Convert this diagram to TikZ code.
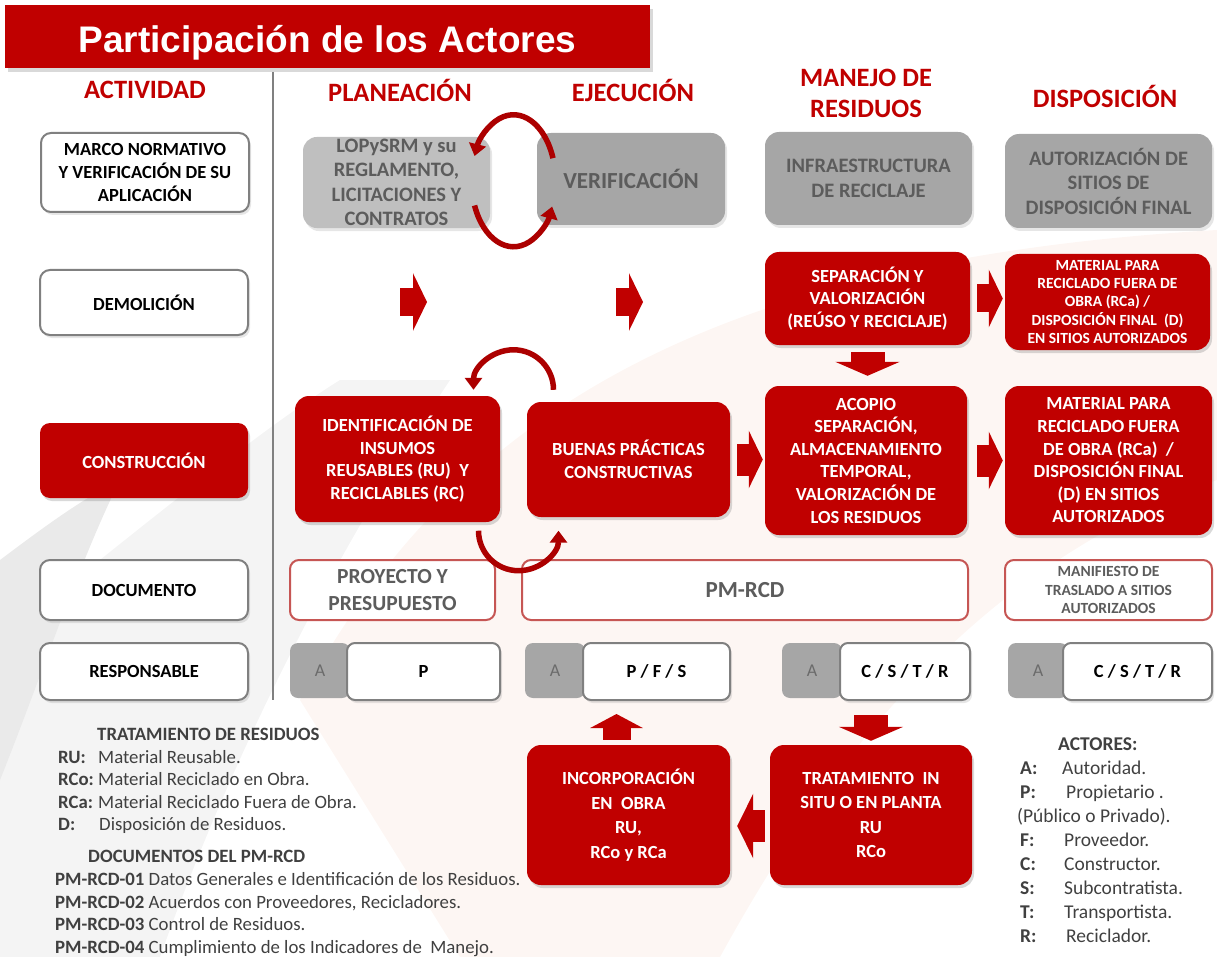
\documentclass[tikz,border=0pt]{standalone}
\usepackage{fontspec}
\setmainfont{Carlito}
\newfontfamily\titlefont{Liberation Sans}
\usepackage{tikz}
\usetikzlibrary{arrows.meta, calc, positioning, shadows}
\usepackage{xcolor}
\definecolor{actred}{RGB}{192, 0, 0}
\definecolor{cyclered}{RGB}{172, 0, 0}
\definecolor{boxgray}{RGB}{166, 166, 166}
\definecolor{boxlightgray}{RGB}{191, 191, 191}
\definecolor{textgray}{RGB}{92, 92, 92}
\definecolor{framegray}{RGB}{128, 128, 128}
\definecolor{docred}{RGB}{198, 86, 84}
\definecolor{legendgray}{RGB}{64, 64, 64}
\definecolor{shadepink}{RGB}{253, 246, 243}
\definecolor{shadegray}{RGB}{244, 244, 244}
\definecolor{shadegraydark}{RGB}{234, 234, 234}
\newcommand{\boxfont}{\fontsize{18.5}{22.6}\selectfont\bfseries}
\newcommand{\smallboxfont}{\fontsize{15.5}{18.2}\selectfont\bfseries}
\newcommand{\grayfont}{\fontsize{20.5}{24.5}\selectfont\bfseries}
\newcommand{\headfont}{\fontsize{26.5}{31}\selectfont\bfseries}
\newcommand{\legendfont}{\fontsize{18.8}{22.6}\selectfont}

\begin{document}
\begin{tikzpicture}[x=1pt, y=-1pt,
	redbox/.style={fill=actred, text=white, rounded corners=14pt, align=center,
		font=\boxfont, inner sep=2pt,
		drop shadow={opacity=0.3, shadow xshift=2pt, shadow yshift=-3pt}},
	graybox/.style={fill=boxgray, text=textgray, rounded corners=14pt, align=center,
		font=\grayfont, inner sep=2pt,
		drop shadow={opacity=0.2, shadow xshift=2pt, shadow yshift=-3pt}},
	actbox/.style={draw=framegray, line width=2pt, fill=white, rounded corners=10pt,
		align=center, font=\boxfont, minimum width=208,
		drop shadow={opacity=0.2, shadow xshift=2pt, shadow yshift=-3pt}},
	docbox/.style={draw=docred, line width=2pt, fill=white, rounded corners=9pt,
		align=center, text=textgray, minimum height=60, inner sep=1pt},
	abox/.style={fill=boxgray, text=black!58, rounded corners=8pt,
		minimum width=60, minimum height=55, font=\fontsize{18}{20}\selectfont},
	rolebox/.style={draw=framegray, line width=2pt, fill=white, rounded corners=8pt,
		minimum height=57, font=\boxfont,
		drop shadow={opacity=0.2, shadow xshift=2pt, shadow yshift=-3pt}},
	header/.style={text=actred, font=\headfont, align=center},
	blockarrow/.style={draw=actred, line width=28pt, -{Triangle[width=57pt, length=14pt]}},
	vblockarrow/.style={draw=actred, line width=34pt, -{Triangle[width=64pt, length=14pt]}},
	cyclearrow/.style={draw=cyclered, line width=5.5pt, -{Triangle[width=17pt, length=12pt]}},
	legend/.style={text=legendgray, font=\legendfont, align=left, inner sep=0pt}]
	\useasboundingbox (0,0) rectangle (1217,957);
	% faint background bands
	\fill[shadegray] (0,957) -- (0,640) .. controls (150,520) and (260,430) .. (340,380)
		-- (450,380) .. controls (330,560) and (230,760) .. (160,957) -- cycle;
	\fill[shadegraydark] (0,780) -- (0,560) .. controls (40,530) and (80,500) .. (120,480)
		.. controls (80,560) and (40,680) .. cycle;
	\fill[shadepink] (300,700) .. controls (450,420) and (700,260) .. (1217,230)
		-- (1217,480) .. controls (1000,560) and (850,720) .. (720,957) -- (460,957) -- cycle;
	% title bar
	\node[fill=actred, text=white, minimum width=645, inner sep=0pt,
		text height=48pt, text depth=15pt,
		font=\titlefont\fontsize{37}{40}\selectfont\bfseries,
		drop shadow={opacity=0.3, shadow xshift=3pt, shadow yshift=-4pt}]
		(title) at (327.5,36.5) {Participación de los Actores};
	% column headers
	\node[header] (hact) at (145,90) {ACTIVIDAD};
	\node[header] (hplan) at (400,90) {PLANEACIÓN};
	\node[header] (hejec) at (633,90) {EJECUCIÓN};
	\node[header] (hman) at (866,93) {MANEJO DE\\RESIDUOS};
	\node[header] (hdisp) at (1105,96) {DISPOSICIÓN};
	% separator
	\draw[framegray, line width=2.5pt] (273,72) -- (273,700);
	% activity column
	\node[actbox, minimum height=79] (marco) at (145,172.5)
		{MARCO NORMATIVO\\Y VERIFICACIÓN DE SU\\APLICACIÓN};
	\node[actbox, minimum height=65] (demol) at (144,302.5) {DEMOLICIÓN};
	\node[redbox, minimum width=208, minimum height=75, rounded corners=10pt]
		(constr) at (144,460.5) {CONSTRUCCIÓN};
	\node[actbox, minimum height=60] (docu) at (144,590) {DOCUMENTO};
	\node[actbox, minimum height=57] (resp) at (144,671.5) {RESPONSABLE};
	% marco normativo row
	\node[graybox, fill=boxlightgray, minimum width=187, minimum height=85]
		(lopy) at (396.5,182.5) {LOPySRM y su\\REGLAMENTO,\\LICITACIONES Y\\CONTRATOS};
	\node[graybox, minimum width=188, minimum height=92,
		font=\fontsize{23}{27}\selectfont\bfseries] (verif) at (631,179) {VERIFICACIÓN};
	\node[graybox, minimum width=207, minimum height=93]
		(infra) at (868.5,178.5) {INFRAESTRUCTURA\\DE RECICLAJE};
	\node[graybox, minimum width=207, minimum height=94]
		(autor) at (1108.5,181) {AUTORIZACIÓN DE\\SITIOS DE\\DISPOSICIÓN FINAL};
	% demolicion row
	\node[redbox, minimum width=205, minimum height=93]
		(separ) at (867.5,298.5) {SEPARACIÓN Y\\VALORIZACIÓN\\(REÚSO Y RECICLAJE)};
	\node[redbox, minimum width=205, minimum height=96, font=\smallboxfont]
		(matA) at (1107.5,302) {MATERIAL PARA\\RECICLADO FUERA DE\\OBRA (RCa) /\\DISPOSICIÓN FINAL~ (D)\\EN SITIOS AUTORIZADOS};
	% construccion row
	\node[redbox, minimum width=205, minimum height=126]
		(ident) at (397.5,459) {IDENTIFICACIÓN DE\\INSUMOS\\REUSABLES (RU)~ Y\\RECICLABLES (RC)};
	\node[redbox, minimum width=203, minimum height=115]
		(buenas) at (628.5,459.5) {BUENAS PRÁCTICAS\\CONSTRUCTIVAS};
	\node[redbox, minimum width=202, minimum height=149]
		(acopio) at (866,460.5) {ACOPIO\\SEPARACIÓN,\\ALMACENAMIENTO\\TEMPORAL,\\VALORIZACIÓN DE\\LOS RESIDUOS};
	\node[redbox, minimum width=207, minimum height=149]
		(matB) at (1108.5,460.5) {MATERIAL PARA\\RECICLADO FUERA\\DE OBRA (RCa)~ /\\DISPOSICIÓN FINAL\\(D) EN SITIOS\\AUTORIZADOS};
	% documento row
	\node[docbox, minimum width=205, font=\fontsize{21.5}{27}\selectfont\bfseries]
		(proy) at (392.5,590) {PROYECTO Y\\PRESUPUESTO};
	\node[docbox, minimum width=446, font=\fontsize{23}{27}\selectfont\bfseries]
		(pmrcd) at (745,590) {PM-RCD};
	\node[docbox, minimum width=207, font=\smallboxfont]
		(manif) at (1108.5,590) {MANIFIESTO DE\\TRASLADO A SITIOS\\AUTORIZADOS};
	% responsable row
	\node[abox] (aut1) at (320,670.5) {A};
	\node[rolebox, minimum width=153] (role1) at (423.5,671.5) {P};
	\node[abox] (aut2) at (555,670.5) {A};
	\node[rolebox, minimum width=147] (role2) at (656.5,671.5) {P / F / S};
	\node[abox] (aut3) at (812,670.5) {A};
	\node[rolebox, minimum width=130] (role3) at (905,671.5) {C / S / T / R};
	\node[abox] (aut4) at (1038,670.5) {A};
	\node[rolebox, minimum width=149] (role4) at (1137.5,671.5) {C / S / T / R};
	% treatment boxes
	\node[redbox, minimum width=203, minimum height=140, font=\fontsize{18.5}{24.6}\selectfont\bfseries]
		(incorp) at (628.5,815) {INCORPORACIÓN\\EN~ OBRA\\RU,\\RCo y RCa};
	\node[redbox, minimum width=202, minimum height=140, font=\fontsize{18.5}{24.6}\selectfont\bfseries]
		(trat) at (871,815) {TRATAMIENTO~ IN\\SITU O EN PLANTA\\RU\\RCo};
	% block arrows
	\coordinate (demA) at (400,302);
	\coordinate (demB) at (427,302);
	\coordinate (demC) at (616,302);
	\coordinate (demD) at (643,302);
	\draw[blockarrow] (demA) -- (demB);
	\draw[blockarrow] (demC) -- (demD);
	\draw[blockarrow, shorten <=7pt, shorten >=2pt] (separ.east) -- (separ.east -| matA.west);
	\draw[blockarrow, line width=32pt, shorten <=7pt, shorten >=2pt] (buenas.east) -- (buenas.east -| acopio.west);
	\draw[blockarrow, line width=32pt, shorten <=10pt, shorten >=2pt] (acopio.east) -- (acopio.east -| matB.west);
	\draw[vblockarrow, shorten <=7pt, shorten >=10pt] (separ.south) -- (separ.south |- acopio.north);
	\draw[vblockarrow, line width=28pt, -{Triangle[width=52pt, length=14pt]}, shorten <=5pt, shorten >=13pt]
		([xshift=-12pt]incorp.north) -- ([xshift=-12pt]incorp.north |- role2.south);
	\draw[vblockarrow, shorten <=14pt, shorten >=4pt] (trat.north |- role3.south) -- (trat.north);
	\draw[blockarrow, line width=32pt, -{Triangle[width=64pt, length=16pt]}, shorten <=5pt, shorten >=7pt]
		([yshift=-11pt]trat.west) -- ([yshift=-11pt]trat.west -| incorp.east);
	% cycle arrows
	\coordinate (cycA) at ($(lopy.east)!0.5!(verif.west)$);
	\draw[cyclearrow] (cycA) ++(-20:42 and 66) arc[start angle=-20, end angle=-158, x radius=42, y radius=66];
	\draw[cyclearrow] (cycA) ++(158:42 and 66) arc[start angle=158, end angle=23, x radius=42, y radius=66];
	\coordinate (cycB) at ($(ident.north east)!0.5!(buenas.north west)$);
	\draw[cyclearrow] ([yshift=9pt]cycB) ++(0:40) arc[start angle=0, end angle=-180, radius=40];
	\coordinate (cycC) at ($(ident.south east)!0.5!(buenas.south west)$);
	\draw[cyclearrow] ([xshift=5pt, yshift=-11pt]cycC) ++(180:40) arc[start angle=180, end angle=0, radius=40];
	% legends
	\node[legend, anchor=north west] (tratleg) at (55,728) {%
		\hspace*{42pt}\textbf{TRATAMIENTO DE RESIDUOS}\\
		\hspace*{3pt}\makebox[40pt][l]{\textbf{RU:}}Material Reusable.\\
		\hspace*{3pt}\makebox[40pt][l]{\textbf{RCo:}}Material Reciclado en Obra.\\
		\hspace*{3pt}\makebox[40pt][l]{\textbf{RCa:}}Material Reciclado Fuera de Obra.\\
		\hspace*{3pt}\makebox[41pt][l]{\textbf{D:}}Disposición de Residuos.\\[9.4pt]
		\hspace*{33pt}\textbf{DOCUMENTOS DEL PM-RCD}\\
		\textbf{PM-RCD-01} Datos Generales e Identificación de los Residuos.\\
		\textbf{PM-RCD-02} Acuerdos con Proveedores, Recicladores.\\
		\textbf{PM-RCD-03} Control de Residuos.\\
		\textbf{PM-RCD-04} Cumplimiento de los Indicadores de~ Manejo.};
	\node[legend, anchor=north west, font=\fontsize{19.5}{24}\selectfont] (actleg) at (1017,738) {%
		\hspace*{41pt}\textbf{ACTORES:}\\
		\hspace*{3pt}\makebox[42pt][l]{\textbf{A:}}Autoridad.\\
		\hspace*{3pt}\makebox[46pt][l]{\textbf{P:}}Propietario .\\
		(Público o Privado).\\
		\hspace*{3pt}\makebox[44pt][l]{\textbf{F:}}Proveedor.\\
		\hspace*{3pt}\makebox[44pt][l]{\textbf{C:}}Constructor.\\
		\hspace*{3pt}\makebox[44pt][l]{\textbf{S:}}Subcontratista.\\
		\hspace*{3pt}\makebox[44pt][l]{\textbf{T:}}Transportista.\\
		\hspace*{3pt}\makebox[46pt][l]{\textbf{R:}}Reciclador.};
\end{tikzpicture}
\end{document}
